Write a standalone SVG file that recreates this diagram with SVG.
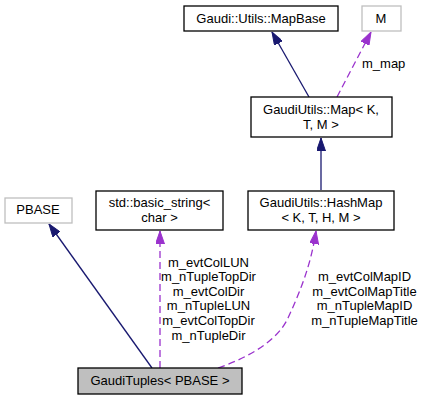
<svg xmlns="http://www.w3.org/2000/svg" width="424" height="400" viewBox="0 0 424 400">
<style>
text{font-family:"Liberation Sans",Arial,sans-serif;font-size:13px;fill:#000}
.c{text-anchor:middle}
.n{fill:#fff;stroke:#000;stroke-width:1.3}
.g{fill:#fff;stroke:#bfbfbf;stroke-width:1.3}
.f{fill:#bfbfbf;stroke:#000;stroke-width:1.3}
.e{fill:none;stroke:#191970;stroke-width:1.3}
.d{fill:none;stroke:#9a32cd;stroke-width:1.3;stroke-dasharray:7,4}
</style>
<defs>
<marker id="ab" viewBox="0 0 13 9" refX="13" refY="4.5" markerWidth="13" markerHeight="9" markerUnits="userSpaceOnUse" orient="auto">
<polygon points="0,0 13,4.5 0,9" fill="#191970" stroke="#191970"/>
</marker>
<marker id="ap" viewBox="0 0 13 9" refX="13" refY="4.5" markerWidth="13" markerHeight="9" markerUnits="userSpaceOnUse" orient="auto">
<polygon points="0,0 13,4.5 0,9" fill="#9a32cd" stroke="#9a32cd"/>
</marker>
</defs>
<g id="edges">
<path class="e" d="M309,97 L272,32" marker-end="url(#ab)"/>
<path class="d" d="M337,97 L371,32" marker-end="url(#ap)"/>
<text x="362" y="68">m_map</text>
<path class="e" d="M321,190 L321,138" marker-end="url(#ab)"/>
<path class="d" d="M160,368 L160,231" marker-end="url(#ap)"/>
<text class="c" x="208.5" y="267">m_evtColLUN</text>
<text class="c" x="208.5" y="281">m_nTupleTopDir</text>
<text class="c" x="208.5" y="295.5">m_evtColDir</text>
<text class="c" x="208.5" y="310">m_nTupleLUN</text>
<text class="c" x="208.5" y="325">m_evtColTopDir</text>
<text class="c" x="208.5" y="340">m_nTupleDir</text>
<path class="d" d="M218,368 C250,357 278,340 288,318 C300,292 311,265 316,231" marker-end="url(#ap)"/>
<text class="c" x="364.5" y="281">m_evtColMapID</text>
<text class="c" x="364.5" y="295.5">m_evtColMapTitle</text>
<text class="c" x="364.5" y="310">m_nTupleMapID</text>
<text class="c" x="364.5" y="325">m_nTupleMapTitle</text>
<path class="e" d="M152,368 L49,224" marker-end="url(#ab)"/>
</g>
<g id="mapbase">
<rect class="n" x="184" y="6" width="154" height="25"/>
<text class="c" x="261" y="22.5">Gaudi::Utils::MapBase</text>
</g>
<g id="m">
<rect class="g" x="362" y="6" width="39" height="25"/>
<text class="c" x="381" y="22.5">M</text>
</g>
<g id="map">
<rect class="n" x="251" y="97" width="141" height="40"/>
<text class="c" x="321" y="114">GaudiUtils::Map&lt; K,</text>
<text class="c" x="321" y="128.5">T, M &gt;</text>
</g>
<g id="hashmap">
<rect class="n" x="248" y="191" width="146" height="39"/>
<text class="c" x="321" y="207">GaudiUtils::HashMap</text>
<text class="c" x="321" y="222">&lt; K, T, H, M &gt;</text>
</g>
<g id="basicstring">
<rect class="n" x="96" y="191" width="127" height="39"/>
<text class="c" x="159.5" y="207">std::basic_string&lt;</text>
<text class="c" x="159.5" y="222">char &gt;</text>
</g>
<g id="pbase">
<rect class="g" x="5" y="198" width="67" height="25"/>
<text class="c" x="38" y="214">PBASE</text>
</g>
<g id="gaudituples">
<rect class="f" x="78" y="368" width="164" height="26"/>
<text class="c" x="160" y="385">GaudiTuples&lt; PBASE &gt;</text>
</g>
</svg>
